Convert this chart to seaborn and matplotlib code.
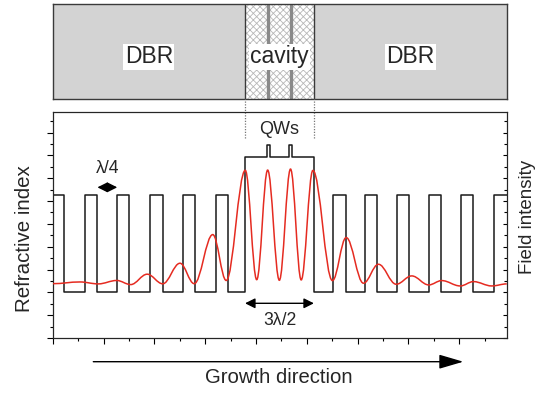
import numpy as np
import pandas as pd
import matplotlib
matplotlib.use("Agg")
import matplotlib.pyplot as plt
from matplotlib.path import Path
from matplotlib.patches import PathPatch
from matplotlib.ticker import MultipleLocator
import seaborn as sns

# ---------------- data ----------------
# layer boundaries along the growth direction (arb. units)
layer_edges = [0.0, 0.445, 1.27, 1.76, 2.54, 3.02, 3.83, 4.33, 5.12, 5.61, 6.43, 6.91,
               7.57, 8.43, 8.56, 9.31, 9.43, 10.28, 11.05, 11.54, 12.30, 12.78, 13.57,
               14.04, 14.81, 15.30, 16.07, 16.56, 17.36, 17.88]
# refractive index level of each layer (arb. units)
index_levels = [12.5, 4.0, 12.5, 4.0, 12.5, 4.0, 12.5, 4.0, 12.5, 4.0, 12.5, 4.0,
                15.85, 16.87, 15.85, 16.87, 15.85, 4.0, 12.5, 4.0, 12.5, 4.0, 12.5,
                4.0, 12.5, 4.0, 12.5, 4.0, 12.5]
# field-intensity extrema (x, value)
field_x = [0.0, 1.075, 1.795, 2.52, 3.07, 3.72, 4.33, 5.01, 5.57, 6.30, 6.83, 7.58,
           8.03, 8.46, 8.92, 9.36, 9.78, 10.24, 11.01, 11.55, 12.23, 12.82, 13.52,
           14.13, 14.80, 15.31, 16.04, 16.56, 17.28, 17.87]
field_y = [4.76, 4.91, 4.74, 5.04, 4.68, 5.59, 4.75, 6.55, 4.76, 9.06, 5.04, 14.69,
           5.11, 14.71, 5.06, 14.80, 5.09, 14.68, 5.03, 8.80, 4.80, 6.46, 4.71,
           5.44, 4.65, 5.03, 4.56, 4.94, 4.56, 4.74]
cavity = [7.57, 10.28]
qw_centers = [8.48, 9.38]
quarter_layer = [1.76, 2.54]
x_range = [0.0, 17.88]
y_range = [0.0, 19.8]

# ---------------- style ----------------
sns.set_theme(style="ticks")
plt.rcParams["font.family"] = ["Liberation Sans", "DejaVu Sans"]
plt.rcParams["axes.linewidth"] = 0.8

W, H = 544, 394
fig = plt.figure(figsize=(W / 100, H / 100), dpi=100)

def frac(x0, y0, x1, y1):
    return [x0 / W, 1 - y1 / H, (x1 - x0) / W, (y1 - y0) / H]

# ---------------- top schematic ----------------
axt = fig.add_axes(frac(52.7, 4, 507, 99))
axt.set_xlim(*x_range)
axt.set_ylim(0, 1)
grey = "#d3d3d3"
axt.axvspan(x_range[0], cavity[0], color=grey, lw=0)
axt.axvspan(cavity[1], x_range[1], color=grey, lw=0)
plt.rcParams["hatch.color"] = "#b8b8b8"
plt.rcParams["hatch.linewidth"] = 0.6
axt.axvspan(cavity[0], cavity[1], facecolor="white", edgecolor="#b8b8b8",
            hatch="xxxxx", lw=0)
for q in qw_centers:
    axt.axvline(q, color="#8a8a8a", lw=2.4)
for c in cavity:
    axt.axvline(c, color="#3a3a3a", lw=1.0)
for s in axt.spines.values():
    s.set_color("#3a3a3a")
    s.set_linewidth(1.0)
axt.set_xticks([])
axt.set_yticks([])
tb = dict(facecolor="white", edgecolor="none", pad=1.0)
axt.text((x_range[0] + cavity[0]) / 2, 0.376, "DBR", ha="center", va="baseline",
         fontsize=16.5, bbox=tb)
axt.text((cavity[1] + x_range[1]) / 2, 0.376, "DBR", ha="center", va="baseline",
         fontsize=16.5, bbox=tb)
axt.text(sum(cavity) / 2, 0.376, "cavity", ha="center", va="baseline",
         fontsize=16.5, bbox=tb)

# ---------------- main plot ----------------
ax = fig.add_axes(frac(52.7, 112, 507, 338))
df_n = pd.DataFrame({"x": layer_edges, "n": index_levels + [index_levels[-1]]})
sns.lineplot(data=df_n, x="x", y="n", ax=ax, estimator=None, sort=False,
             drawstyle="steps-post", color="#1a1a1a", lw=1.1)
ax.set_xlim(*x_range)
ax.set_ylim(*y_range)
ax.set_xlabel("")
ax.set_ylabel("")
ax.xaxis.set_major_locator(MultipleLocator(2))
ax.xaxis.set_minor_locator(MultipleLocator(1))
ax.yaxis.set_major_locator(MultipleLocator(2))
ax.yaxis.set_minor_locator(MultipleLocator(1))
ax.tick_params(axis="both", which="both", direction="out", labelbottom=False,
               labelleft=False, color="black", width=0.8)
ax.tick_params(axis="both", which="major", length=4.0)
ax.tick_params(axis="both", which="minor", length=2.5)
for s in ax.spines.values():
    s.set_color("black")

ax2 = ax.twinx()
ax2.set_ylim(*y_range)
ax2.yaxis.set_major_locator(MultipleLocator(2))
ax2.yaxis.set_minor_locator(MultipleLocator(1))
ax2.tick_params(axis="y", which="both", direction="in", labelright=False,
                color="black", width=0.8)
ax2.tick_params(axis="y", which="major", length=3.0)
ax2.tick_params(axis="y", which="minor", length=2.0)
ax2.set_ylabel("")

# smooth field-intensity curve through the extrema (bezier path)
a = 0.37
verts = [(field_x[0], field_y[0])]
codes = [Path.MOVETO]
for x0, y0, x1, y1 in zip(field_x[:-1], field_y[:-1], field_x[1:], field_y[1:]):
    dx = x1 - x0
    verts += [(x0 + a * dx, y0), (x1 - a * dx, y1), (x1, y1)]
    codes += [Path.CURVE4] * 3
ax2.add_patch(PathPatch(Path(verts, codes), facecolor="none", edgecolor="#e52b21",
                        lw=1.1, zorder=3))

# annotations
ax.axvline(cavity[0], ymin=0.885, ymax=1.0575, clip_on=False, color="#777777",
           lw=0.9, ls=(0, (1, 1.2)))
ax.axvline(cavity[1], ymin=0.885, ymax=1.0575, clip_on=False, color="#777777",
           lw=0.9, ls=(0, (1, 1.2)))
ax.text(sum(cavity) / 2, 17.87, "QWs", ha="center", va="baseline", fontsize=13)
ax.annotate("", xy=(quarter_layer[0], 13.2), xytext=(quarter_layer[1], 13.2),
            arrowprops=dict(arrowstyle="<|-|>,head_length=0.6,head_width=0.3",
                            mutation_scale=10, color="black", lw=1.0,
                            shrinkA=0, shrinkB=0))
ax.text(sum(quarter_layer) / 2, 14.45, "λ/4", ha="center", va="baseline", fontsize=12.7)
ax.annotate("", xy=(cavity[0], 3.04), xytext=(cavity[1], 3.04),
            arrowprops=dict(arrowstyle="<|-|>,head_length=0.6,head_width=0.3",
                            mutation_scale=10, color="black", lw=1.0,
                            shrinkA=0, shrinkB=0))
ax.text(sum(cavity) / 2, 1.14, "3λ/2", ha="center", va="baseline", fontsize=12.7)

# axis labels
fig.text(24.5 / W, 1 - 239 / H, "Refractive index", rotation=90, ha="center",
         va="center", fontsize=14.8)
fig.text(528 / W, 1 - 216.7 / H, "Field intensity", rotation=90, ha="center",
         va="center", fontsize=13.5)
fig.text(279 / W, 1 - 382.7 / H, "Growth direction", ha="center", va="baseline",
         fontsize=14.6)
ax.annotate("", xy=(463.3 / W, 1 - 361.7 / H), xytext=(93.3 / W, 1 - 361.7 / H),
            xycoords="figure fraction", textcoords="figure fraction",
            arrowprops=dict(arrowstyle="-|>,head_length=0.75,head_width=0.22",
                            mutation_scale=20, color="black", lw=1.0,
                            shrinkA=0, shrinkB=0))

fig.savefig("out.png", dpi=100)
